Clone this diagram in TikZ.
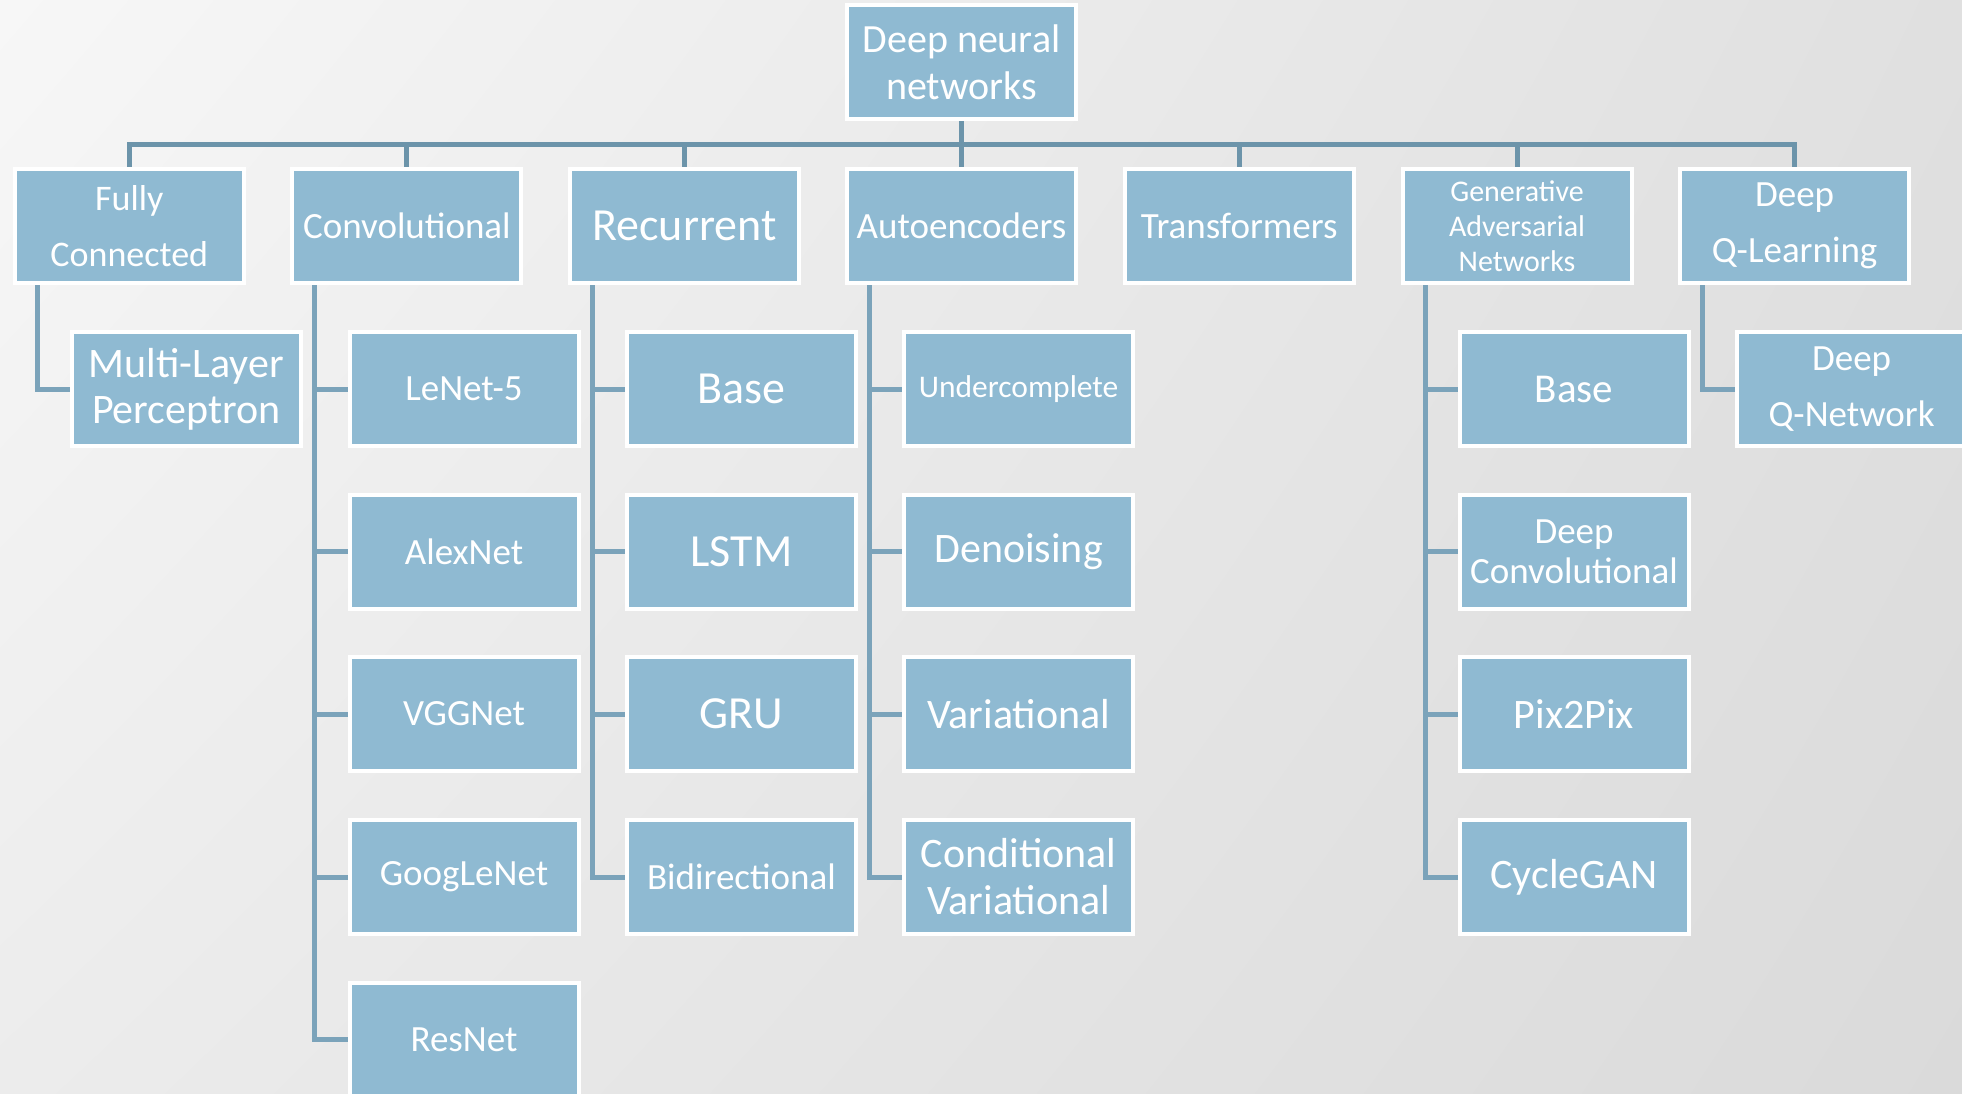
\documentclass[tikz,border=0pt]{standalone}
\usepackage{fontspec}
\setmainfont{Carlito}
\usetikzlibrary{shadings}
\definecolor{boxblue}{HTML}{8FBAD2}
\definecolor{busblue}{HTML}{6C94AA}
\definecolor{linkblue}{HTML}{7BA3BA}
\definecolor{bgA}{HTML}{F7F7F7}
\definecolor{bgB}{HTML}{E0E0E0}
\definecolor{bgC}{HTML}{ECECEC}
\definecolor{bgD}{HTML}{DADADA}
\tikzset{
  box/.style={rectangle, fill=boxblue, draw=white, line width=4pt,
    minimum width=229pt, minimum height=114pt, inner sep=0pt,
    text=white, align=center},
  bus/.style={draw=busblue, line width=5pt, line join=miter},
  conn/.style={draw=linkblue, line width=5pt, line join=miter}
}
\newcommand{\fsz}[2]{\fontsize{#1pt}{#2pt}\selectfont}
\begin{document}
\begin{tikzpicture}[x=1pt,y=-1pt]
  % page background
  \useasboundingbox (0,0) rectangle (1962,1094);
  \clip (0,0) rectangle (1962,1094);
  \shade[upper left=bgA, upper right=bgB, lower left=bgC, lower right=bgD]
    (0,0) rectangle (1962,1094);

  \coordinate (bus) at (0,144.5);

  % root
  \node[box, font=\fsz{40}{47}] (root) at (961.5,62.5) {Deep neural\\networks};

  % main families
  \node[box, font=\fsz{36}{56}] (fc)   at (129.3,226) {Fully\\Connected};
  \node[box, font=\fsz{37}{44}] (conv) at (406.9,226) {Convolutional};
  \node[box, font=\fsz{46}{52}] (rnn)  at (684.4,226) {Recurrent};
  \node[box, font=\fsz{37}{44}] (ae)   at (961.5,226) {Autoencoders};
  \node[box, font=\fsz{37}{44}] (tr)   at (1239.2,226) {Transformers};
  \node[box, font=\fsz{30}{35}] (gan)  at (1517.0,226) {Generative\\Adversarial\\Networks};
  \node[box, font=\fsz{37}{56}] (dql)  at (1794.6,226) {Deep\\Q-Learning};

  % fully connected
  \node[box, font=\fsz{42}{46}] (mlp) at (186.3,389) {Multi-Layer\\Perceptron};

  % convolutional
  \node[box, font=\fsz{37}{44}] (c1) at (464.0,389)   {LeNet-5};
  \node[box, font=\fsz{37}{44}] (c2) at (464.0,551.5) {AlexNet};
  \node[box, font=\fsz{37}{44}] (c3) at (464.0,714)   {VGGNet};
  \node[box, font=\fsz{37}{44}] (c4) at (464.0,877)   {GoogLeNet};
  \node[box, font=\fsz{37}{44}] (c5) at (464.0,1039.5){ResNet};

  % recurrent
  \node[box, font=\fsz{46}{52}] (r1) at (741.5,389)   {Base};
  \node[box, font=\fsz{46}{52}] (r2) at (741.5,551.5) {LSTM};
  \node[box, font=\fsz{46}{52}] (r3) at (741.5,714)   {GRU};
  \node[box, font=\fsz{37}{44}] (r4) at (741.5,877)   {Bidirectional};

  % autoencoders
  \node[box, font=\fsz{31.5}{38}] (a1) at (1018.6,389)   {Undercomplete};
  \node[box, font=\fsz{42}{48}]   (a2) at (1018.6,551.5) {Denoising};
  \node[box, font=\fsz{42}{48}]   (a3) at (1018.6,714)   {Variational};
  \node[box, font=\fsz{42}{47}]   (a4) at (1018.6,877)   {Conditional\\Variational};

  % generative adversarial networks
  \node[box, font=\fsz{41}{48}] (g1) at (1574.0,389)   {Base};
  \node[box, font=\fsz{37}{40}] (g2) at (1574.0,551.5) {Deep\\Convolutional};
  \node[box, font=\fsz{42}{48}] (g3) at (1574.0,714)   {Pix2Pix};
  \node[box, font=\fsz{42}{48}] (g4) at (1574.0,877)   {CycleGAN};

  % deep Q-learning
  \node[box, font=\fsz{37}{56}] (q1) at (1851.6,389) {Deep\\Q-Network};

  % top bus
  \draw[bus] (root.south) -- (ae.north);
  \draw[bus] (fc.north) -- (fc.north |- bus) -- (dql.north |- bus) -- (dql.north);
  \foreach \n in {conv,rnn,tr,gan}
    \draw[bus] (\n.north) -- (\n.north |- bus);

  % branch connectors
  \draw[conn] ([xshift=-92pt]fc.south) |- (mlp.west);
  \foreach \c in {c1,c2,c3,c4,c5}
    \draw[conn] ([xshift=-92pt]conv.south) |- (\c.west);
  \foreach \c in {r1,r2,r3,r4}
    \draw[conn] ([xshift=-92pt]rnn.south) |- (\c.west);
  \foreach \c in {a1,a2,a3,a4}
    \draw[conn] ([xshift=-92pt]ae.south) |- (\c.west);
  \foreach \c in {g1,g2,g3,g4}
    \draw[conn] ([xshift=-92pt]gan.south) |- (\c.west);
  \draw[conn] ([xshift=-92pt]dql.south) |- (q1.west);
\end{tikzpicture}
\end{document}
